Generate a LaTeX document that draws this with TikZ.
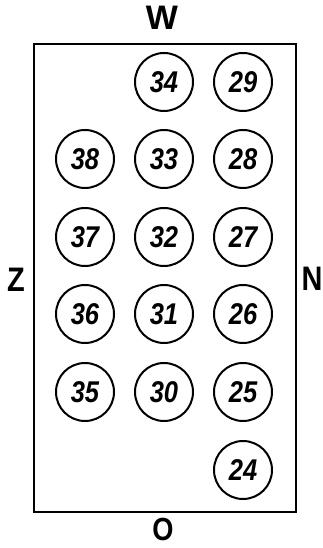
\documentclass[tikz,border=0pt]{standalone}
\usepackage{fontspec}
\setmainfont{Liberation Sans}
\newfontfamily\narrowsans[FakeStretch=0.85]{Liberation Sans}
\usetikzlibrary{positioning}

\begin{document}
\begin{tikzpicture}[
  x=1pt, y=1pt,
  side/.style={inner sep=0pt,font=\fontsize{34}{34}\selectfont\bfseries},
  spot/.style={draw,circle,line width=2pt,minimum size=58pt,inner sep=0pt,
    font=\narrowsans\fontsize{30}{30}\selectfont\bfseries\itshape}
]
\useasboundingbox (0,0) rectangle (323,548);
\node[draw,line width=2.2pt,minimum width=262pt,minimum height=468pt,inner sep=0pt] (frame) at (165,270) {};
\node[side] (w) at (162,530) {W};
\node[side,font=\narrowsans\fontsize{32}{32}\selectfont\bfseries] (o) at (163,19) {O};
\node[side,font=\narrowsans\fontsize{34}{34}\selectfont\bfseries] (z) at (16,268) {Z};
\node[side,font=\narrowsans\fontsize{34}{34}\selectfont\bfseries] (n) at (312,269) {N};
% opstelling
\foreach \nr/\px/\py in {38/85/389,37/85/311,36/85/234,35/85/156,
    34/164/466,33/164/389,32/164/311,31/164/234,30/164/156,
    29/243/466,28/243/389,27/243/311,26/243/234,25/243/156,24/243/78}
  \node[spot] (p\nr) at (\px,\py) {\nr};
\end{tikzpicture}
\end{document}
